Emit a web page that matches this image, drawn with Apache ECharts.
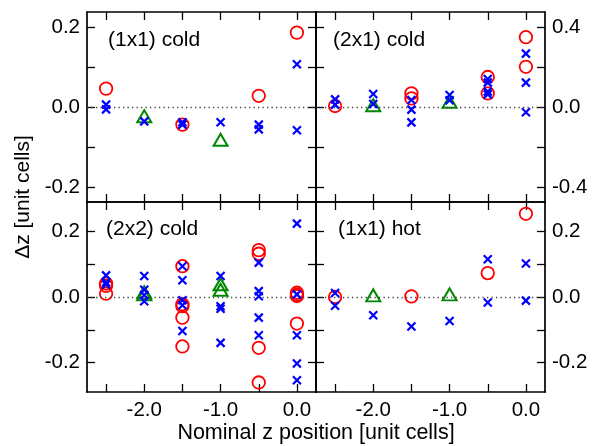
<!DOCTYPE html>
<html>
<head>
<meta charset="utf-8">
<script src="https://cdn.jsdelivr.net/npm/echarts@6/dist/echarts.min.js"></script>
<style>
html,body{margin:0;padding:0;background:#fff;}
#chart{width:603px;height:446px;}
</style>
</head>
<body>
<div id="chart"></div>
<script>
// ---- data ----
const panelNames = ['(1x1) cold', '(2x1) cold', '(2x2) cold', '(1x1) hot'];
const xTickValues = [-2.5, -2.0, -1.5, -1.0, -0.5, 0.0];
const xLabelValues = [-2.0, -1.0, 0.0];
const yTicksSmall = [-0.2, -0.1, 0.0, 0.1, 0.2];
const yLabelsSmall = [-0.2, 0.0, 0.2];
const yTicksLarge = [-0.4, -0.2, 0.0, 0.2, 0.4];
const yLabelsLarge = [-0.4, 0.0, 0.4];

// (1x1) cold
const a_circles = [[-2.5,0.046],[-1.5,-0.044],[-0.5,0.028],[0,0.186]];
const a_crosses = [[-2.5,0.006],[-2.5,-0.006],[-2,-0.036],[-1.5,-0.038],[-1.5,-0.044],[-1,-0.038],[-0.5,-0.044],[-0.5,-0.056],[0,0.107],[0,-0.058]];
const a_triangles = [[-2,-0.023],[-1,-0.082]];

// (2x1) cold
const b_circles = [[-2.5,0.005],[-1.5,0.068],[-1.5,0.043],[-0.5,0.150],[-0.5,0.068],[0,0.349],[0,0.201]];
const b_crosses = [[-2.5,0.038],[-2.5,0.012],[-2,0.065],[-2,0.015],[-1.5,0.035],[-1.5,-0.013],[-1.5,-0.077],[-1,0.060],[-1,0.034],[-0.5,0.140],[-0.5,0.122],[-0.5,0.077],[-0.5,0.063],[0,0.267],[0,0.122],[0,-0.026]];
const b_triangles = [[-2,0.009],[-1,0.026]];

// (2x2) cold
const c_circles = [[-2.5,0.041],[-2.5,0.034],[-2.5,0.010],[-1.5,0.094],[-1.5,-0.022],[-1.5,-0.028],[-1.5,-0.063],[-1.5,-0.151],[-0.5,0.143],[-0.5,0.132],[-0.5,-0.155],[-0.5,-0.261],[0,0.013],[0,0.007],[0,0.003],[0,-0.081]];
const c_crosses = [[-2.5,0.066],[-2.5,0.045],[-2.5,0.038],[-2,0.064],[-2,0.022],[-2,0.006],[-2,-0.013],[-1.5,0.094],[-1.5,0.051],[-1.5,-0.010],[-1.5,-0.025],[-1.5,-0.104],[-1,0.064],[-1,-0.028],[-1,-0.036],[-1,-0.140],[-0.5,0.105],[-0.5,0.018],[-0.5,0.002],[-0.5,-0.063],[-0.5,-0.117],[0,0.224],[0,0.008],[0,-0.117],[0,-0.203],[0,-0.254]];
const c_triangles = [[-2,0.014],[-2,0.008],[-1,0.039],[-1,0.022]];

// (1x1) hot
const d_circles = [[-2.5,0.0],[-1.5,0.002],[-0.5,0.073],[0,0.254]];
const d_crosses = [[-2.5,0.012],[-2.5,-0.027],[-2,-0.056],[-1.5,-0.090],[-1,-0.073],[-0.5,0.115],[-0.5,-0.017],[0,0.102],[0,-0.011]];
const d_triangles = [[-2,0.005],[-1,0.008]];

// ---- layout ----
const FONT = 'Liberation Sans, Arial, Helvetica, sans-serif';
const grids = [
  {left: 87, top: 12, width: 229, height: 190},
  {left: 316, top: 12, width: 229, height: 190},
  {left: 87, top: 202, width: 229, height: 190},
  {left: 316, top: 202, width: 229, height: 190}
];
const yRanges = [[-0.2375, 0.2375], [-0.475, 0.475], [-0.29, 0.29], [-0.29, 0.29]];
const yTickSets = [yTicksSmall, yTicksLarge, yTicksSmall, yTicksSmall];
const yLabelSets = [yLabelsSmall, yLabelsLarge, yLabelsSmall, yLabelsSmall];
const yLabelSide = ['left', 'right', 'left', 'right'];
const showXLabels = [false, false, true, true];
const panels = [
  [a_circles, a_crosses, a_triangles],
  [b_circles, b_crosses, b_triangles],
  [c_circles, c_crosses, c_triangles],
  [d_circles, d_crosses, d_triangles]
];

const lineStyle = {color: '#000', width: 1.7};
const tickStyle = {color: '#000', width: 1.3};
const fmt = v => v.toFixed(1);

const xAxes = [], yAxes = [], series = [];
grids.forEach((g, i) => {
  ['bottom', 'top'].forEach(pos => {
    xAxes.push({
      type: 'value', gridIndex: i, position: pos, min: -2.75, max: 0.25,
      splitLine: {show: false},
      axisLine: {show: true, onZero: false, lineStyle: lineStyle},
      axisTick: {show: true, inside: true, length: 8, customValues: xTickValues, lineStyle: tickStyle},
      axisLabel: {show: pos === 'bottom' && showXLabels[i], customValues: xLabelValues, formatter: fmt,
        fontSize: 20.5, color: '#000', fontFamily: FONT, margin: 8}
    });
  });
  ['left', 'right'].forEach(pos => {
    yAxes.push({
      type: 'value', gridIndex: i, position: pos, min: yRanges[i][0], max: yRanges[i][1],
      splitLine: {show: false},
      axisLine: {show: true, onZero: false, lineStyle: lineStyle},
      axisTick: {show: true, inside: true, length: 8, customValues: yTickSets[i], lineStyle: tickStyle},
      axisLabel: {show: pos === yLabelSide[i], customValues: yLabelSets[i], formatter: fmt,
        fontSize: 20.5, color: '#000', fontFamily: FONT, margin: 7}
    });
  });
  const xi = i * 2, yi = i * 2;
  const [circ, cross, tri] = panels[i];
  series.push({
    type: 'scatter', xAxisIndex: xi, yAxisIndex: yi, data: circ,
    symbol: 'circle', symbolSize: 12.5,
    itemStyle: {color: 'rgba(0,0,0,0)', borderColor: '#ff0000', borderWidth: 1.8, opacity: 1},
    silent: true, z: 3,
    markLine: {
      silent: true, symbol: ['none', 'none'], label: {show: false},
      lineStyle: {color: '#444', width: 1.3, type: [1.3, 3.2]},
      data: [{yAxis: 0}]
    }
  });
  series.push({
    type: 'scatter', xAxisIndex: xi, yAxisIndex: yi, data: tri,
    symbol: 'triangle', symbolSize: [14, 12],
    itemStyle: {color: 'rgba(0,0,0,0)', borderColor: '#008800', borderWidth: 2, opacity: 1},
    silent: true, z: 4
  });
  series.push({
    type: 'scatter', xAxisIndex: xi, yAxisIndex: yi, data: cross,
    symbol: 'path://M0,0L10,10M10,0L0,10', symbolSize: 8,
    itemStyle: {color: 'rgba(0,0,0,0)', borderColor: '#0000ff', borderWidth: 2.2, opacity: 1},
    silent: true, z: 5
  });
});

const labelPos = [[108, 42], [333, 42], [106, 231], [338, 231]];
const graphics = panelNames.map((t, i) => ({
  type: 'text', left: labelPos[i][0], top: labelPos[i][1] - 12,
  style: {text: t, fontSize: 21, fontFamily: FONT, fill: '#000'}
}));
graphics.push({
  type: 'text', x: 316, y: 433,
  style: {text: 'Nominal z position [unit cells]', fontSize: 21.5, fontFamily: FONT, fill: '#000',
    textAlign: 'center', textVerticalAlign: 'middle'}
});
graphics.push({
  type: 'text', x: 23, y: 197, rotation: Math.PI / 2,
  style: {text: 'Δz [unit cells]', fontSize: 21, fontFamily: FONT, fill: '#000',
    textAlign: 'center', textVerticalAlign: 'middle'}
});

const chart = echarts.init(document.getElementById('chart'), null, {renderer: 'canvas'});
chart.setOption({
  animation: false,
  backgroundColor: '#fff',
  grid: grids,
  xAxis: xAxes,
  yAxis: yAxes,
  series: series,
  graphic: graphics
});
</script>
</body>
</html>
